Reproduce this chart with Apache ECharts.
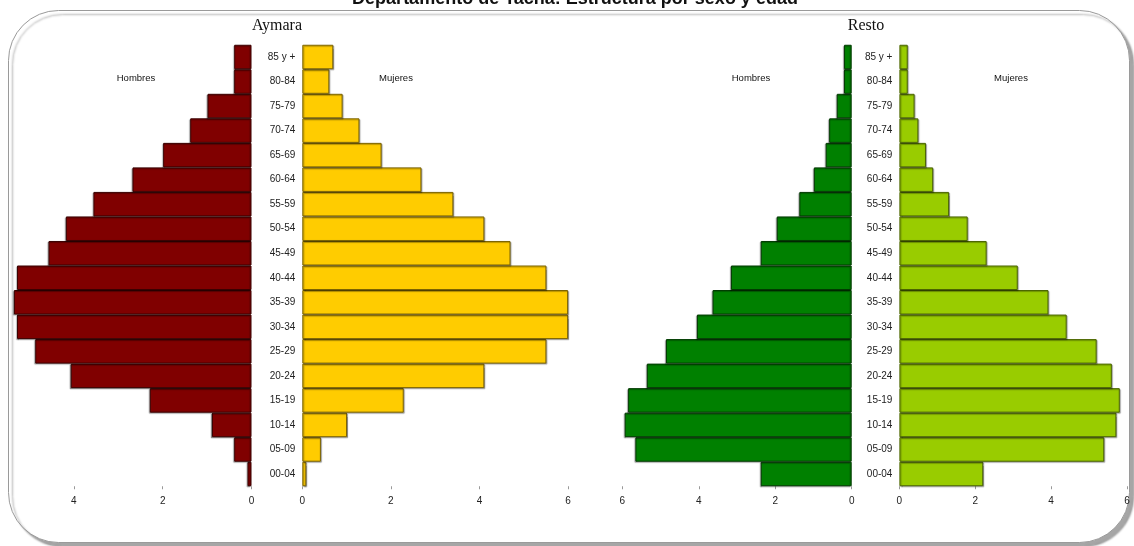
<!DOCTYPE html>
<html>
<head>
<meta charset="utf-8">
<title>Departamento de Tacna: Estructura por sexo y edad</title>
<script src="https://cdn.jsdelivr.net/npm/echarts@6.0.0/dist/echarts.min.js"></script>
<style>
  html, body { margin: 0; padding: 0; background: #fff; }
  #chart { width: 1134px; height: 546px; }
</style>
</head>
<body>
<div id="chart"></div>
<script>
// grupos de edad (de abajo hacia arriba)
const ages = ['00-04', '05-09', '10-14', '15-19', '20-24', '25-29', '30-34', '35-39', '40-44',
  '45-49', '50-54', '55-59', '60-64', '65-69', '70-74', '75-79', '80-84', '85 y +']

// porcentajes
const aymaraHombres = [0.09, 0.39, 0.89, 2.29, 4.07, 4.87, 5.28, 5.35, 5.28, 4.57, 4.18, 3.56, 2.68, 1.99, 1.38, 0.99, 0.39, 0.39]
const aymaraMujeres = [0.09, 0.42, 1.01, 2.29, 4.11, 5.51, 6.0, 6.0, 5.51, 4.70, 4.11, 3.41, 2.69, 1.79, 1.29, 0.91, 0.61, 0.70]
const restoHombres = [2.38, 5.66, 5.94, 5.85, 5.36, 4.86, 4.05, 3.64, 3.16, 2.38, 1.96, 1.37, 0.99, 0.68, 0.59, 0.39, 0.20, 0.20]
const restoMujeres = [2.21, 5.40, 5.72, 5.81, 5.60, 5.20, 4.41, 3.93, 3.12, 2.30, 1.80, 1.31, 0.89, 0.70, 0.50, 0.40, 0.22, 0.22]

// marcas del eje
const ticksAymaraH = [0, 2, 4]
const ticksOther = [0, 2, 4, 6]

const chart = echarts.init(document.getElementById('chart'))

const TOP = 44.75
const HEIGHT = 441.5

const grids = [
  { left: 11.7, top: TOP, width: 239.8, height: HEIGHT },   // Aymara hombres
  { left: 302.3, top: TOP, width: 265.8, height: HEIGHT },  // Aymara mujeres
  { left: 622.4, top: TOP, width: 229.3, height: HEIGHT },  // Resto hombres
  { left: 899.4, top: TOP, width: 227.6, height: HEIGHT }   // Resto mujeres
]

const xAxisFor = (idx, max, inverse, ticks) => ({
  type: 'value',
  gridIndex: idx,
  min: 0,
  max: max,
  inverse: inverse,
  splitLine: { show: false },
  axisLine: { show: false },
  axisTick: {
    show: true,
    length: 3,
    customValues: ticks,
    lineStyle: { color: '#999' }
  },
  axisLabel: {
    customValues: ticks,
    margin: 10,
    color: '#222',
    fontSize: 10,
    fontFamily: 'Liberation Sans, Arial, sans-serif'
  }
})

const yAxisFor = (idx, showLabels) => ({
  type: 'category',
  gridIndex: idx,
  data: ages,
  axisLine: { show: false },
  axisTick: { show: false },
  axisLabel: {
    show: showLabels,
    margin: 7,
    color: '#222',
    fontSize: 10,
    fontFamily: 'Liberation Sans, Arial, sans-serif'
  }
})

const barSeries = (name, idx, data, fill, border, sx) => ({
  name: name,
  type: 'bar',
  xAxisIndex: idx,
  yAxisIndex: idx,
  data: data,
  barCategoryGap: '0%',
  itemStyle: {
    color: fill,
    borderColor: border,
    borderWidth: 1,
    shadowColor: 'rgba(0, 0, 0, 0.3)',
    shadowBlur: 1,
    shadowOffsetX: sx,
    shadowOffsetY: 1
  },
  animation: false
})

const label = (text, x, y, font) => ({
  type: 'text',
  x: x,
  y: y,
  z: 10,
  style: {
    text: text,
    align: 'center',
    verticalAlign: 'middle',
    fill: '#111',
    font: font
  }
})

const option = {
  backgroundColor: '#fff',
  animation: false,
  graphic: [
    {
      type: 'rect',
      z: -10,
      silent: true,
      shape: { x: 8.5, y: 10.5, width: 1121, height: 532, r: 50 },
      style: {
        fill: '#fff',
        stroke: '#9a9a9a',
        lineWidth: 1,
        shadowColor: 'rgba(0, 0, 0, 0.35)',
        shadowBlur: 2,
        shadowOffsetX: 4,
        shadowOffsetY: 4
      }
    },
    label('Departamento de Tacna: Estructura por sexo y edad', 575, -1, 'bold 18px Liberation Sans, Arial, sans-serif'),
    label('Aymara', 277, 26, '16px Liberation Serif, Times New Roman, serif'),
    label('Resto', 866, 26, '16px Liberation Serif, Times New Roman, serif'),
    label('Hombres', 136, 78, '9.5px Liberation Sans, Arial, sans-serif'),
    label('Mujeres', 396, 78, '9.5px Liberation Sans, Arial, sans-serif'),
    label('Hombres', 751, 78, '9.5px Liberation Sans, Arial, sans-serif'),
    label('Mujeres', 1011, 78, '9.5px Liberation Sans, Arial, sans-serif')
  ],
  grid: grids,
  xAxis: [
    xAxisFor(0, 5.4, true, ticksAymaraH),
    xAxisFor(1, 6, false, ticksOther),
    xAxisFor(2, 6, true, ticksOther),
    xAxisFor(3, 6, false, ticksOther)
  ],
  yAxis: [
    yAxisFor(0, false),
    yAxisFor(1, true),
    yAxisFor(2, false),
    yAxisFor(3, true)
  ],
  series: [
    barSeries('Aymara Hombres', 0, aymaraHombres, '#800000', '#3a0000', -1),
    barSeries('Aymara Mujeres', 1, aymaraMujeres, '#ffcc00', '#7a6200', 1),
    barSeries('Resto Hombres', 2, restoHombres, '#008000', '#003a00', -1),
    barSeries('Resto Mujeres', 3, restoMujeres, '#99cc00', '#4a6400', 1)
  ]
}

chart.setOption(option)
</script>
</body>
</html>
